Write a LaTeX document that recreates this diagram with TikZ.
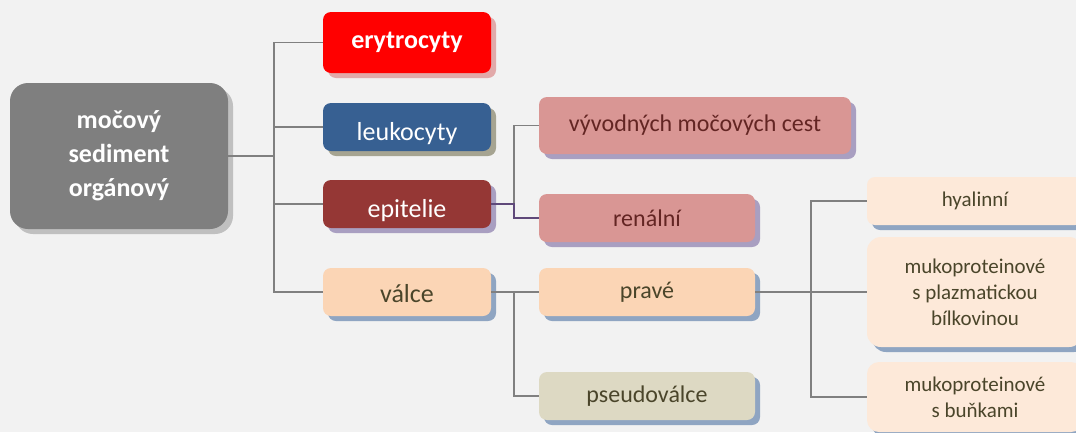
\documentclass[tikz,border=0pt]{standalone}
\usepackage{fontspec}
\setmainfont{Carlito}
\usetikzlibrary{shadows}
\definecolor{bggray}{HTML}{F2F2F2}
\definecolor{linegray}{HTML}{808080}
\definecolor{linepurple}{HTML}{5F497A}
\definecolor{maingray}{HTML}{7F7F7F}
\definecolor{blueish}{HTML}{376092}
\definecolor{darkred}{HTML}{953735}
\definecolor{peach}{HTML}{FBD5B5}
\definecolor{rose}{HTML}{D99694}
\definecolor{khaki}{HTML}{DDD9C3}
\definecolor{cream}{HTML}{FDE9D9}
\definecolor{olivetext}{HTML}{4A452A}
\definecolor{rosetext}{HTML}{632523}
\definecolor{shgray}{HTML}{C0C0C0}
\definecolor{shpink}{HTML}{E2A9A9}
\definecolor{shkhaki}{HTML}{A6A491}
\definecolor{shlilac}{HTML}{A99FC1}
\definecolor{shblue}{HTML}{8FA5C2}

\begin{document}
\begin{tikzpicture}[x=1pt,y=-1pt,
  box/.style={rounded corners=8pt, align=center, inner sep=0pt},
  dropsh/.style={drop shadow={shadow xshift=5pt, shadow yshift=-5pt, fill=#1, opacity=1}},
  lvlone/.style={box, minimum width=168pt, minimum height=48pt, font=\fontsize{26}{32}\selectfont},
  lvltwo/.style={box, minimum width=216pt, minimum height=48pt, font=\fontsize{24}{29}\selectfont},
  lvlthree/.style={box, minimum width=216pt, minimum height=48pt, fill=cream, dropsh=shblue,
    text=olivetext, font=\fontsize{21}{26}\selectfont},
  conn/.style={draw=linegray, line width=1.8pt}]
  \fill[bggray] (0,0) rectangle (1076,432);
  \useasboundingbox (0,0) rectangle (1076,432);

  % root
  \node[box, rounded corners=18pt, minimum width=218pt, minimum height=146pt, fill=maingray,
    dropsh=shgray, text=white, font=\bfseries\fontsize{26}{34}\selectfont]
    (main) at (119,156) {močový\\sediment\\orgánový};

  % first level
  \node[lvlone, minimum height=61pt, fill=red, dropsh=shpink, text=white, font=\bfseries\fontsize{26}{32}\selectfont]
    (ery) at (407,42.5) {erytrocyty};
  \node[lvlone, fill=blueish, dropsh=shkhaki, text=white] (leu) at (407,127)
    {\raisebox{-13pt}[0pt][0pt]{leukocyty}};
  \node[lvlone, fill=darkred, dropsh=shlilac, text=white] (epi) at (407,204)
    {\raisebox{-13pt}[0pt][0pt]{epitelie}};
  \node[lvlone, fill=peach, dropsh=shblue, text=olivetext] (val) at (407,292)
    {\raisebox{-10pt}[0pt][0pt]{válce}};

  % second level
  \node[lvltwo, minimum width=312pt, minimum height=57pt, fill=rose, dropsh=shlilac, text=rosetext]
    (vyv) at (695,125.5) {vývodných močových cest};
  \node[lvltwo, fill=rose, dropsh=shlilac, text=rosetext] (ren) at (647,218) {renální};
  \node[lvltwo, fill=peach, dropsh=shblue, text=olivetext] (prav) at (647,292) {pravé};
  \node[lvltwo, fill=khaki, dropsh=shblue, text=olivetext] (pseu) at (647,396) {pseudoválce};

  % third level
  \node[lvlthree] (hya) at (975,201) {hyalinní};
  \node[lvlthree, rounded corners=14pt, minimum height=110pt] (muk1) at (975,292)
    {mukoproteinové\\s plazmatickou\\bílkovinou};
  \node[lvlthree, rounded corners=12pt, minimum height=70pt] (muk2) at (975,397)
    {mukoproteinové\\s buňkami};

  % connectors
  \coordinate (j1) at (274,156);
  \coordinate (j2) at (514,204);
  \coordinate (j3) at (514,292);
  \coordinate (j4) at (811,292);
  \draw[conn] (main.east) -- (j1);
  \foreach \n in {ery,leu,epi,val}
    \draw[conn] (j1) |- (\n.west);
  \draw[conn] (j2) |- (vyv.west);
  \draw[draw=linepurple, line width=1.8pt] (epi.east) -- (j2) |- (ren.west);
  \draw[conn] (val.east) -- (prav.west);
  \draw[conn] (j3) |- (pseu.west);
  \draw[conn] (prav.east) -- (j4);
  \foreach \n in {hya,muk1,muk2}
    \draw[conn] (j4) |- (\n.west);
\end{tikzpicture}
\end{document}
